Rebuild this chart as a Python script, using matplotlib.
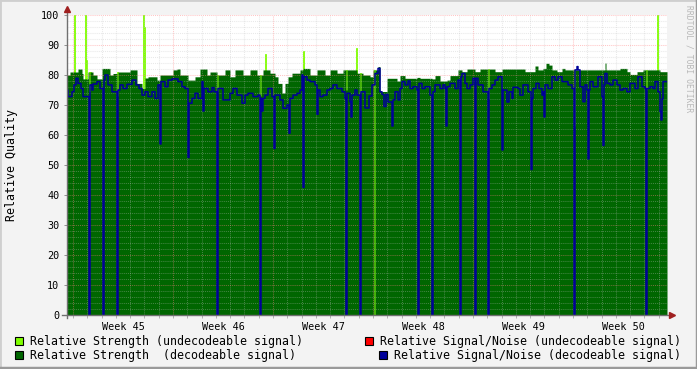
import numpy as np
import matplotlib
matplotlib.use("Agg")
import matplotlib.pyplot as plt
from matplotlib.patches import Rectangle

W, H = 697, 369
N_SAMPLES = 600
T0 = -0.42      # graph start, days after the start of week 45
STEP = 0.07     # days per sample

# relative strength (decodeable), step changes: sample index -> value
green_at = [0, 3, 11, 15, 16, 21, 26, 30, 35, 43, 46, 50, 63, 70, 75, 78, 81, 90, 93, 106,
            110, 113, 121, 128, 133, 140, 143, 150, 158, 163, 168, 176, 183, 190, 196, 203, 208, 211, 215, 218,
            221, 225, 233, 236, 243, 250, 258, 263, 270, 276, 290, 296, 303, 306, 311, 313, 320, 330, 333, 338,
            350, 353, 365, 368, 373, 380, 383, 391, 395, 400, 408, 413, 428, 435, 458, 468, 471, 476, 479, 482,
            485, 490, 495, 498, 538, 539, 553, 560, 563, 570, 576, 593]
green_val = [80, 81, 82, 80.5, 78.7, 81, 80, 78.7, 82.2, 80, 80.5, 81, 81.7, 77.2, 75.5, 79, 79.4, 78.3, 80, 81.7,
             82, 80, 78.3, 79.4, 82, 80, 81, 80, 81.7, 79.4, 81.7, 80, 81.7, 80, 81.7, 80.6, 79.4, 77.2, 74, 77.2,
             79.4, 80.6, 81.7, 82.2, 80, 81.7, 80, 81.7, 80.6, 81.7, 80.6, 80, 79.4, 81.7, 82.8, 74.5, 78.9, 78, 79.8, 78.9,
             79.2, 78.9, 78.7, 79.8, 78, 78.3, 79.8, 81.7, 81.1, 82, 81.1, 82, 81.1, 82, 81.1, 83, 81.7, 82.2, 83.9, 83.3,
             81.7, 81.1, 82.2, 81.7, 84, 81.7, 82.2, 81.1, 80.2, 81.1, 81.7, 81.1]

# decodeable strength at dropout samples (the rest shows as undecodeable)
dec_dip_at = [22, 50, 150, 193, 279, 293, 307, 421, 507, 579]
dec_dip_val = [74.4, 73, 74.4, 73, 75, 74, 0, 72, 63, 75]

# relative strength (undecodeable) spikes
weak_at = [7, 18, 19, 23, 76, 77, 198, 236, 289, 590]
weak_val = [100, 100, 85, 81, 100, 96, 87, 88, 89, 100]

# relative signal/noise (decodeable)
snr_at = [0, 1, 5, 7, 9, 11, 14, 16, 23, 25, 26, 30, 33, 36, 38, 41, 45, 51, 53, 56,
          60, 65, 69, 72, 75, 78, 81, 85, 88, 91, 94, 98, 101, 105, 111, 115, 118, 121, 122, 125,
          128, 131, 135, 137, 141, 145, 147, 150, 156, 163, 166, 170, 175, 178, 181, 186, 191, 193, 198, 201,
          205, 208, 213, 216, 220, 223, 226, 230, 233, 235, 237, 240, 243, 248, 250, 253, 256, 260, 263, 266,
          270, 275, 278, 280, 283, 285, 288, 290, 294, 298, 302, 305, 308, 311, 313, 315, 317, 319, 321, 325,
          328, 331, 333, 335, 338, 341, 343, 346, 350, 351, 355, 358, 363, 365, 368, 373, 376, 378, 380, 383,
          388, 391, 393, 395, 398, 400, 403, 406, 411, 416, 421, 425, 428, 431, 435, 436, 440, 442, 445, 446,
          451, 453, 456, 461, 464, 466, 469, 472, 475, 476, 478, 481, 485, 488, 491, 495, 501, 505, 507, 510,
          511, 513, 516, 518, 520, 523, 526, 531, 535, 536, 538, 540, 543, 546, 550, 553, 556, 560, 563, 568,
          571, 575, 578, 583, 586, 588, 591, 593, 595, 596]
snr_val = [75, 72.8, 74.4, 76.7, 78.9, 77.2, 75.5, 72.8, 76.7, 75, 77, 77.8, 75.5, 78.3, 80, 76.7, 74.4, 75, 76.7, 75.5,
           76.9, 78.3, 76.7, 75.5, 73.3, 74.4, 72.8, 74.4, 72.2, 76.7, 77.8, 76.1, 78.3, 78.7, 77.8, 76.1, 75.5, 73.3, 70.6, 72.2,
           73.9, 72.2, 77.8, 75.5, 74.4, 75.8, 74.4, 75.5, 71.7, 73.9, 75.5, 73.3, 70.6, 73.3, 73.9, 72.8, 73.3, 72.2, 73.3, 75.5,
           72.8, 73.3, 71.7, 68.9, 70, 72.2, 73.3, 73.9, 75, 80, 79.4, 78.3, 77.8, 76.7, 75, 72.8, 73.3, 75, 75.5, 76.7,
           75.5, 74.4, 72.2, 73.9, 71.1, 73.3, 75, 73.3, 74.4, 69, 73, 76.7, 80.5, 82.2, 74.4, 73.5, 69.5, 73.5, 71, 71.7,
           74.4, 71.7, 75.5, 77.8, 76.7, 78, 75.5, 76.1, 75, 77.2, 75.5, 76.1, 73.3, 74.4, 76.7, 75.5, 76.7, 75.5, 76.1, 77.2,
           75.5, 78.3, 79.4, 80.5, 77.2, 75.5, 76.7, 78.9, 76.7, 74.4, 75.5, 76.7, 78.3, 79.4, 77.8, 75, 71, 74.4, 72.2, 75.9,
           75.5, 73.3, 76.7, 74.4, 72.2, 75.5, 77.2, 75.5, 73.3, 74.4, 76.7, 75.5, 79.4, 78.3, 79.4, 77.8, 76.7, 75.5, 81.7, 82.8,
           81.7, 76.1, 71.1, 76.7, 75, 77.8, 76.1, 79.4, 72.8, 76.7, 80.5, 77.2, 76.7, 78.3, 76.7, 75, 75.5, 74.4, 77.2, 75.5,
           79.4, 76.1, 75.5, 76.1, 75.5, 77.8, 74.4, 67.8, 72, 77.8]

# single-sample dropouts of the signal/noise line
snr_dip_at = [22, 36, 50, 93, 121, 136, 150, 193, 195, 207, 222, 236, 250, 279, 284, 293,
              325, 351, 365, 379, 393, 408, 421, 435, 464, 477, 507, 521, 536, 579, 594]
snr_dip_val = [0, 0, 0, 57, 52.5, 68, 0, 0, 68, 55.5, 60.6, 42.5, 66.9, 0, 66, 0,
               63, 0, 0, 63, 0, 0, 0, 55, 48.5, 66, 0, 52, 56.5, 0, 65]

week_days = [3.5, 10.5, 17.5, 24.5, 31.5, 38.5]
week_labels = ["Week 45", "Week 46", "Week 47", "Week 48", "Week 49", "Week 50"]

legend_labels = ["Relative Strength (undecodeable signal)",
                 "Relative Strength  (decodeable signal)",
                 "Relative Signal/Noise (undecodeable signal)",
                 "Relative Signal/Noise (decodeable signal)"]

DARK = "#006600"
LIGHT = "#80ff00"
RED = "#ff0000"
BLUE = "#000099"
MONO = "DejaVu Sans Mono"


def expand(at, val):
    out = np.empty(N_SAMPLES)
    bounds = list(at) + [N_SAMPLES]
    for i, v in enumerate(val):
        out[bounds[i]:bounds[i + 1]] = v
    return out


strength = expand(green_at, green_val)
weak_top = np.full(N_SAMPLES, np.nan)
weak_top[weak_at] = weak_val
weak_top[dec_dip_at] = strength[dec_dip_at]
strength[dec_dip_at] = dec_dip_val

snr = expand(snr_at, snr_val)
snr[snr_dip_at] = snr_dip_val

edges = T0 + np.arange(N_SAMPLES + 1) * STEP

fig = plt.figure(figsize=(W / 100, H / 100), dpi=100, facecolor="#f3f3f3")
ax = fig.add_axes([67 / W, 54 / H, 600 / W, 300 / H])
ax.set_facecolor("white")

has_weak = ~np.isnan(weak_top)
ax.bar(edges[:-1][has_weak], weak_top[has_weak], width=STEP, align="edge",
       color=LIGHT, edgecolor=LIGHT, lw=0.6, zorder=1)
ax.fill_between(edges, np.append(strength, strength[-1]), step="post",
                color=DARK, lw=0, zorder=2, antialiased=False)

# grid on top of the areas, rrdtool style
for d in range(0, 42):
    major = d % 7 == 0
    ax.axvline(d, color="#ff8080" if major else "#c0c0c0",
               alpha=0.45 if major else 0.35, lw=0.75, ls=(0, (1, 1)), zorder=3)
for v in range(2, 101, 2):
    major = v % 10 == 0
    ax.axhline(v, color="#ff8080" if major else "#c0c0c0",
               alpha=0.45 if major else 0.35, lw=0.75, ls=(0, (1, 1)), zorder=3)

ax.plot(edges, np.append(snr, snr[-1]), drawstyle="steps-post",
        color=BLUE, lw=1.1, zorder=4)

ax.set_xlim(edges[0], edges[-1])
ax.set_ylim(0, 100)
ax.set_yticks(range(0, 101, 10))
ax.set_xticks(week_days, labels=week_labels)
ax.set_xticks(range(0, 42), minor=True)
ax.tick_params(axis="x", which="major", length=0, pad=5, labelsize=7.3)
ax.tick_params(axis="x", which="minor", length=2.5, color="#b0b0b0", width=0.7)
for tick, d in zip(ax.xaxis.get_minor_ticks(), range(0, 42)):
    if d % 7 == 0:
        tick.tick1line.set_color("#e08080")
ax.tick_params(axis="y", which="major", length=2.5, color="#909090", width=0.7,
               pad=3, labelsize=7.3)
for lab in ax.get_xticklabels() + ax.get_yticklabels():
    lab.set_family(MONO)

for s in ax.spines.values():
    s.set_visible(False)
ax.plot([0, 0], [-0.01, 1.02], transform=ax.transAxes, clip_on=False,
        color="#707070", lw=1, zorder=5)
ax.plot([-0.008, 1.008], [0, 0], transform=ax.transAxes, clip_on=False,
        color="#707070", lw=1, zorder=5)
ax.plot(0, 1.02, marker="^", ms=4, color="#a02020", transform=ax.transAxes,
        clip_on=False, zorder=6)
ax.plot(1.008, 0, marker=">", ms=4, color="#a02020", transform=ax.transAxes,
        clip_on=False, zorder=6)

fig.text(12 / W, 1 - 165 / H, "Relative Quality", rotation=90, ha="center",
         va="center", family=MONO, fontsize=8.4)
fig.text(689 / W, 1 - 5 / H, "RRDTOOL / TOBI OETIKER", rotation=270,
         ha="center", va="top", family=MONO, fontsize=5.8, color="#b8b8b8")

legend_pos = [(15, 341, 30), (15, 355, 30), (365, 341, 380), (379, 355, 394)]
legend_colors = [LIGHT, DARK, RED, BLUE]
for (bx, by, tx), col, lab in zip(legend_pos, legend_colors, legend_labels):
    fig.patches.append(Rectangle((bx / W, 1 - (by + 4) / H), 8 / W, 8 / H,
                                 transform=fig.transFigure, facecolor=col,
                                 edgecolor="black", lw=0.8))
    fig.text(tx / W, 1 - by / H, lab, ha="left", va="center", family=MONO,
             fontsize=8.35)

# raised frame around the canvas
fig.patches.append(Rectangle((0, 0), 1, 1, transform=fig.transFigure,
                             fill=False, edgecolor="#cfcfcf", lw=2))
fig.lines.append(plt.Line2D([0, 1, 1], [0.002, 0.002, 1], transform=fig.transFigure,
                            color="#9a9a9a", lw=2.5))

fig.savefig("out.png", dpi=100, facecolor=fig.get_facecolor())
